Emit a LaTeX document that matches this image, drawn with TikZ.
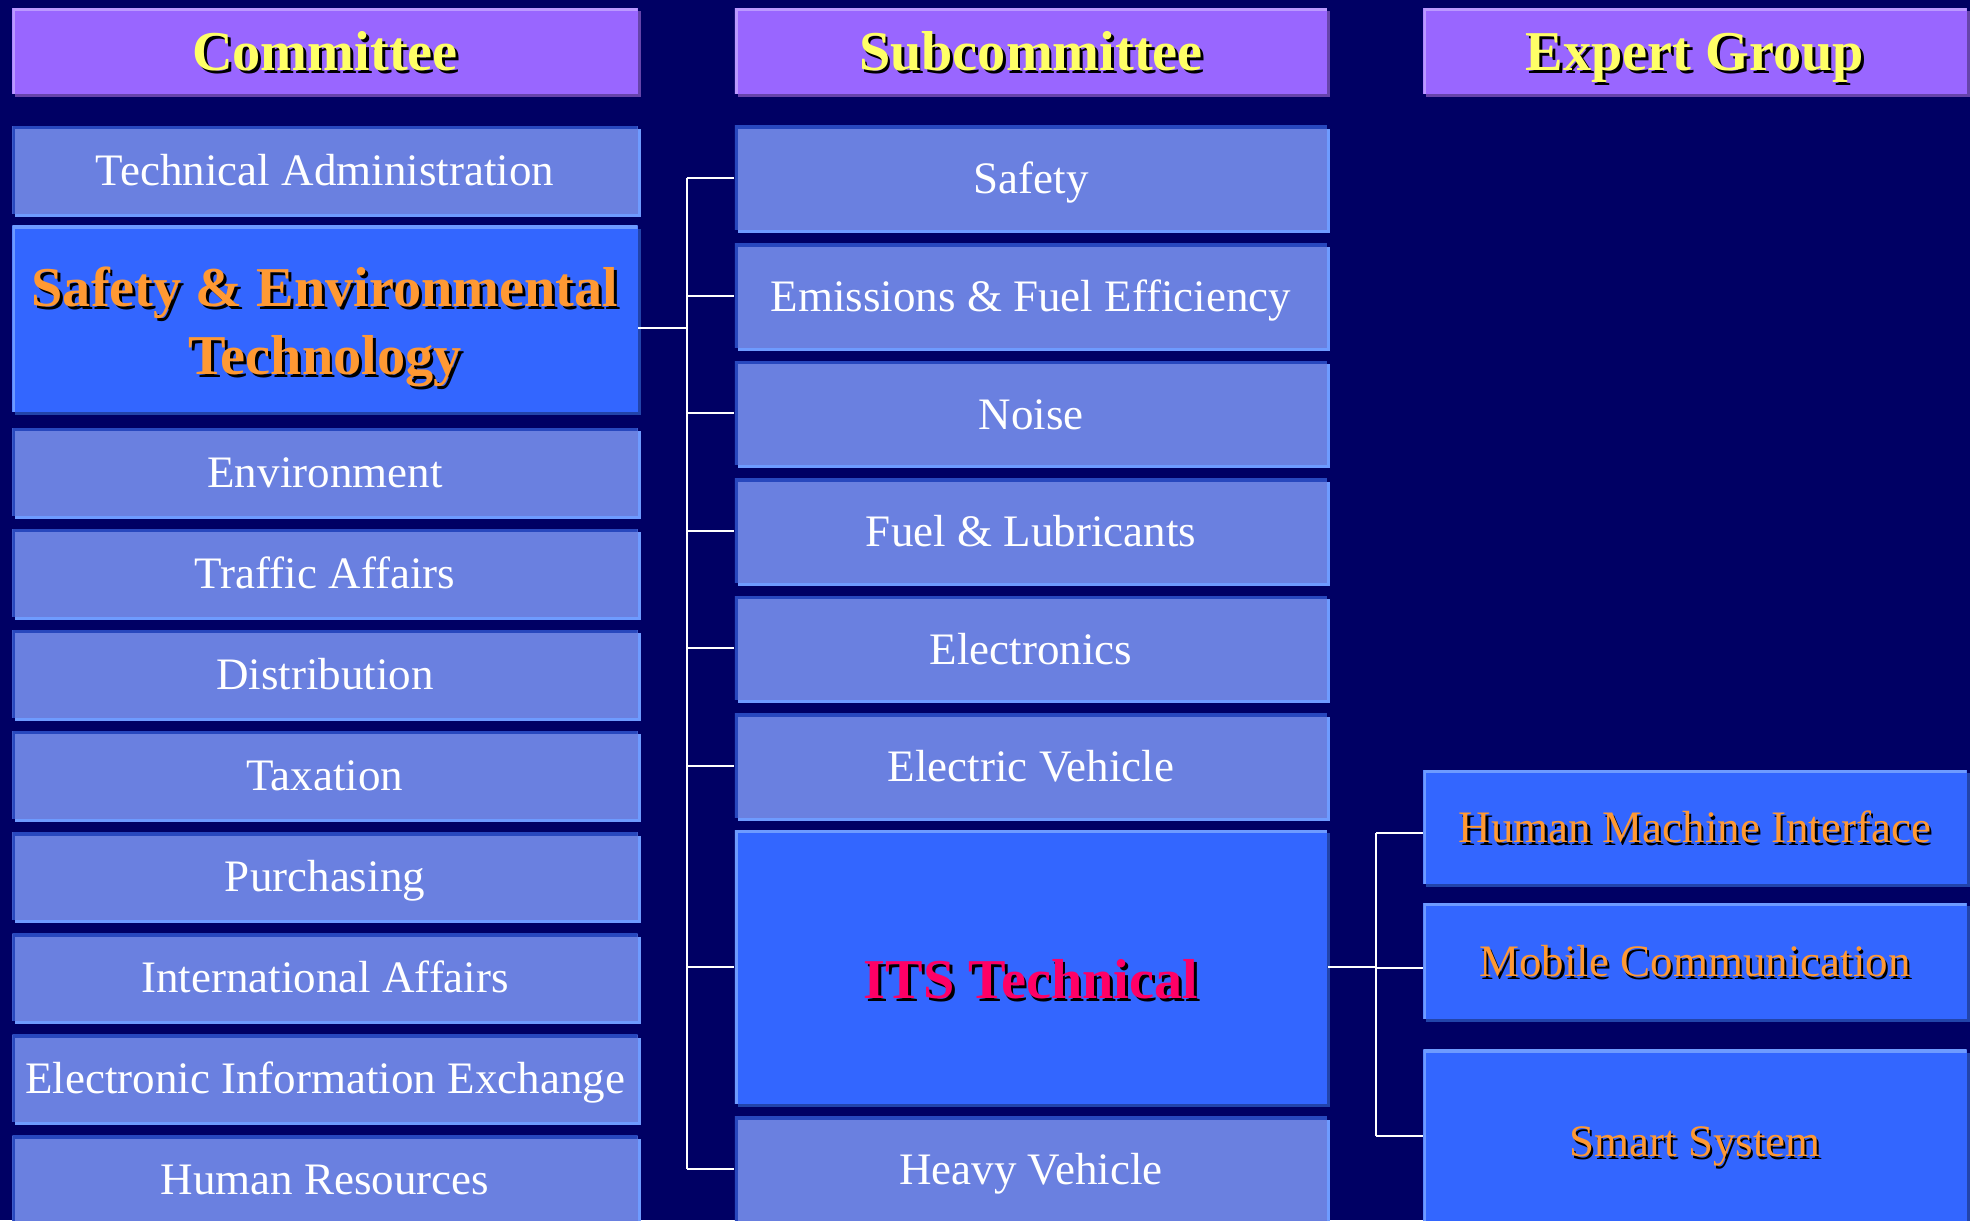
\documentclass[tikz,border=0pt]{standalone}
\usepackage{fontspec}
\setmainfont{Liberation Serif}
\usetikzlibrary{shadows}
\definecolor{bgNavy}{RGB}{0,0,100}
\definecolor{hdrPurple}{RGB}{153,102,255}
\definecolor{hdrLight}{RGB}{187,153,255}
\definecolor{hdrDark}{RGB}{102,68,170}
\definecolor{keyBlue}{RGB}{51,102,255}
\definecolor{keyLight}{RGB}{110,155,255}
\definecolor{keyDark}{RGB}{34,68,170}
\definecolor{dotBlue}{RGB}{106,128,224}
\definecolor{dotDark}{RGB}{40,72,190}
\definecolor{txtYellow}{RGB}{255,255,102}
\definecolor{txtOrange}{RGB}{255,153,51}
\definecolor{txtRed}{RGB}{255,0,102}

\newcommand{\shadowed}[1]{\rlap{\kern0.05em\raisebox{-0.05em}{\color{black}#1}}#1}

\tikzset{
  edge hi/.style={path picture={\draw[#1, line width=0.06cm]
      (path picture bounding box.south west) |- (path picture bounding box.north east);}},
  boxbase/.style={rectangle, inner sep=0pt, align=center, text=white,
    text height=9pt, text depth=0pt,
    font=\fontsize{12.8}{15}\selectfont},
  bigfont/.style={font=\fontsize{16}{19.3}\selectfont\bfseries, text height=11.2pt},
  hdrbox/.style={boxbase, bigfont, fill=hdrPurple, minimum height=0.85cm, text=txtYellow,
    drop shadow={shadow xshift=0.03cm, shadow yshift=-0.03cm, fill=hdrDark, opacity=1},
    edge hi=hdrLight},
  keybox/.style={boxbase, fill=keyBlue,
    drop shadow={shadow xshift=0.03cm, shadow yshift=-0.03cm, fill=keyDark, opacity=1},
    edge hi=keyLight},
  dotbox/.style={boxbase, fill=dotBlue,
    drop shadow={shadow xshift=0.03cm, shadow yshift=-0.03cm, fill=keyLight, opacity=1},
    edge hi=dotDark},
  comcol/.style={minimum width=6.25cm, minimum height=0.87cm},
  subcol/.style={minimum width=5.92cm, minimum height=1.04cm},
  expcol/.style={minimum width=5.43cm},
  wire/.style={white, line width=0.6pt}
}

\begin{document}
\begin{tikzpicture}[x=0.01cm, y=-0.01cm]
  \useasboundingbox (0,0) rectangle (1970,1220);
  \fill[bgNavy] (0,0) rectangle (1970,1220);

  % column heads
  \node[hdrbox, minimum width=6.25cm] (hdrCom) at (325,51) {\shadowed{Committee}};
  \node[hdrbox, minimum width=5.92cm] (hdrSub) at (1031,51) {\shadowed{Subcommittee}};
  \node[hdrbox, minimum width=5.43cm] (hdrExp) at (1695,51) {\shadowed{Expert Group}};

  % committees
  \node[dotbox, comcol] (techAdm) at (325,170) {Technical Administration};
  \node[keybox, comcol, bigfont, minimum height=1.86cm, text=txtOrange,
    text height={}, text depth={}] (sae) at (325,319)
    {\rule{0pt}{16.6pt}\shadowed{Safety \& Environmental}\\\shadowed{Technology}};
  \foreach \name [count=\i from 0] in {Environment, Traffic Affairs, Distribution, Taxation,
      Purchasing, International Affairs, Electronic Information Exchange, Human Resources}
    \node[dotbox, comcol] (com\i) at (325,472+101*\i) {\name};

  % subcommittees
  \foreach \name [count=\i] in {Safety, Emissions \& Fuel Efficiency, Noise,
      Fuel \& Lubricants, Electronics, Electric Vehicle}
    \node[dotbox, subcol] (sub\i) at (1031,60.4+117.6*\i) {\name};
  \node[keybox, subcol, bigfont, minimum height=2.73cm, text=txtRed,
    text height=18pt] (its) at (1031,967) {\shadowed{ITS Technical}};
  \node[dotbox, subcol] (heavy) at (1031,1169) {Heavy Vehicle};

  % expert groups
  \node[keybox, expcol, minimum height=1.13cm, text=txtOrange] (hmi) at (1695,827)
    {\shadowed{Human Machine Interface}};
  \node[keybox, expcol, minimum height=1.15cm, text=txtOrange] (mobCom) at (1695,961)
    {\shadowed{Mobile Communication}};
  \node[keybox, expcol, minimum height=1.82cm, text=txtOrange] (smart) at (1695,1141)
    {\shadowed{Smart System}};

  % connectors
  \coordinate (busA) at (687,0);
  \coordinate (busB) at (1376,0);
  \draw[wire] ([yshift=-0.09cm]sae.east) -- ([yshift=-0.09cm]sae.east -| busA);
  \foreach \n in {sub1,sub2,sub3,sub4,sub5,sub6,its,heavy}
    \draw[wire] (\n.west) -- (\n.west -| busA);
  \draw[wire] (sub1.west -| busA) -- (heavy.west -| busA);
  \draw[wire] (its.east) -- (its.east -| busB);
  \draw[wire] ([yshift=-0.06cm]hmi.west) -- ([yshift=-0.06cm]hmi.west -| busB);
  \draw[wire] ([yshift=-0.07cm]mobCom.west) -- ([yshift=-0.07cm]mobCom.west -| busB);
  \draw[wire] ([yshift=0.05cm]smart.west) -- ([yshift=0.05cm]smart.west -| busB);
  \draw[wire] ([yshift=-0.06cm]hmi.west -| busB) -- ([yshift=0.05cm]smart.west -| busB);
\end{tikzpicture}
\end{document}
